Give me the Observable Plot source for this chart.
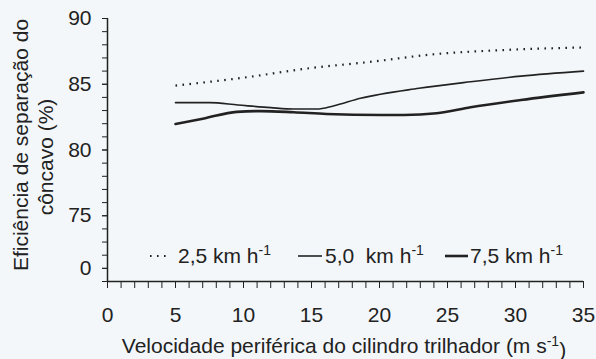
<!DOCTYPE html>
<html><head><meta charset="utf-8">
<script src="https://cdn.jsdelivr.net/npm/d3@7"></script>
<script src="https://cdn.jsdelivr.net/npm/@observablehq/plot@0.6"></script>
<style>
body{margin:0;background:#f3f7f9;}
svg{font-family:"Liberation Sans",Arial,sans-serif;}
</style>
</head><body><div id="chart"></div>
<script>
// data
const seriesNames = ["2,5 km h", "5,0  km h", "7,5 km h"];
const x25 = [5, 10, 14.7, 19.3, 24.2, 29.1, 35];
const y25 = [84.9, 85.5, 86.2, 86.7, 87.3, 87.6, 87.8];
const x50 = [5, 7.5, 9.6, 12, 13.7, 15.4, 16.6, 18.6, 22.9, 26.7, 30.4, 35];
const y50 = [83.6, 83.6, 83.42, 83.22, 83.12, 83.12, 83.35, 83.93, 84.69, 85.19, 85.62, 86.0];
const x75 = [5, 7.1, 9.5, 11.3, 13.7, 16.1, 20.1, 21.8, 24.2, 26.7, 30.4, 35];
const y75 = [81.98, 82.4, 82.9, 82.96, 82.87, 82.74, 82.66, 82.66, 82.79, 83.25, 83.8, 84.38];
const yTicks = [71, 75, 80, 85, 90];
const yTickLabels = ["0", "75", "80", "85", "90"];
const xTicks = [0, 5, 10, 15, 20, 25, 30, 35];

const d25 = x25.map((x, i) => ({x, y: y25[i]}));
const d50 = x50.map((x, i) => ({x, y: y50[i]}));
const d75 = x75.map((x, i) => ({x, y: y75[i]}));
const ink = "#222";

const plot = Plot.plot({
  width: 596, height: 359,
  marginLeft: 107, marginRight: 13, marginTop: 18, marginBottom: 78,
  style: {background: "transparent", color: ink},
  x: {domain: [0, 35]},
  y: {domain: [70, 90]},
  marks: [
    Plot.axisY(d3.range(70, 91), {tickSize: 5, text: null, label: null, stroke: ink}),
    Plot.axisY(yTicks, {tickSize: 5, tickPadding: 11, fontSize: 21, fill: ink, stroke: ink, label: null,
      tickFormat: d => yTickLabels[yTicks.indexOf(d)]}),
    Plot.axisX(d3.range(0, 36), {tickSize: 7, text: null, label: null, stroke: ink}),
    Plot.axisX(xTicks, {tickSize: 7, tickPadding: 19, fontSize: 21, fill: ink, stroke: ink, label: null}),
    Plot.ruleX([0], {stroke: ink, strokeWidth: 1.5}),
    Plot.ruleY([70], {stroke: ink, strokeWidth: 1.5}),
    Plot.line(d25, {x: "x", y: "y", stroke: ink, strokeWidth: 2.2, strokeDasharray: "1.6,5.4", strokeLinecap: "butt", curve: "monotone-x"}),
    Plot.line(d50, {x: "x", y: "y", stroke: ink, strokeWidth: 1.6, curve: "monotone-x"}),
    Plot.line(d75, {x: "x", y: "y", stroke: ink, strokeWidth: 2.6, curve: "monotone-x"})
  ]
});
document.getElementById("chart").appendChild(plot);

const svg = d3.select(plot);
// y title (two lines)
const yt = svg.append("g").attr("fill", ink).attr("font-size", 21).attr("text-anchor", "middle");
yt.append("text").attr("transform", "translate(22,145) rotate(-90)").attr("dominant-baseline", "middle").text("Eficiência de separação do");
yt.append("text").attr("transform", "translate(47,157) rotate(-90)").attr("dominant-baseline", "middle").text("côncavo (%)");

// x title
const xt = svg.append("text").attr("x", 344).attr("y", 353).attr("fill", ink)
  .attr("font-size", 21).attr("text-anchor", "middle");
xt.append("tspan").text("Velocidade periférica do cilindro trilhador (m s");
xt.append("tspan").attr("dy", "-0.5em").attr("font-size", 14).text("-1");
xt.append("tspan").attr("dy", "0.5em").text(")");

// legend
const leg = [
  {x1: 150, x2: 167, tx: 178, w: 2.2, dash: "1.6,5.4", name: seriesNames[0]},
  {x1: 298, x2: 322, tx: 325, w: 1.6, dash: null, name: seriesNames[1]},
  {x1: 445, x2: 468, tx: 470, w: 2.6, dash: null, name: seriesNames[2]}
];
const lg = svg.append("g").attr("text-anchor", "start");
leg.forEach(l => {
  lg.append("line").attr("x1", l.x1).attr("x2", l.x2).attr("y1", 256).attr("y2", 256)
    .attr("stroke", ink).attr("stroke-width", l.w).attr("stroke-dasharray", l.dash);
  const t = lg.append("text").attr("x", l.tx).attr("y", 263).attr("fill", ink).attr("font-size", 21)
    .style("white-space", "pre");
  t.append("tspan").text(l.name);
  t.append("tspan").attr("dy", "-0.55em").attr("font-size", 14).text("-1");
});
</script>
</body></html>
